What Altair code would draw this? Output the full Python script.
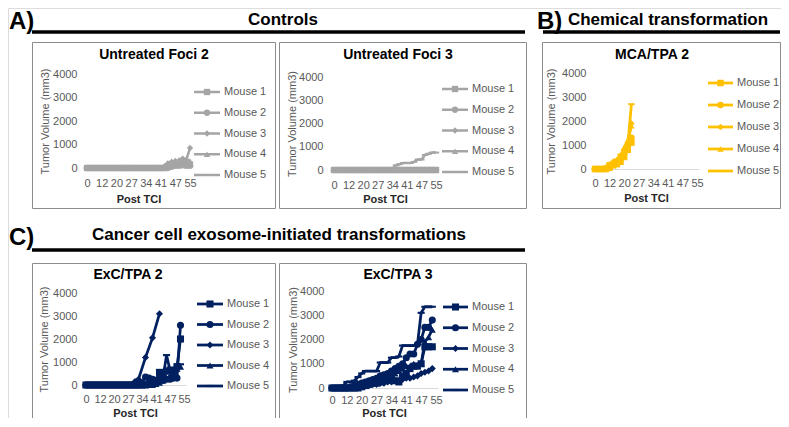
import altair as alt
import pandas as pd

# ---------------- data ----------------
days = [0, 3, 6, 9, 12, 14, 16, 18, 20, 22, 24, 26, 27, 29, 31, 33, 34, 36, 38, 40,
        41, 42, 44, 46, 47, 49, 51, 53, 55]
tick_days = [0, 12, 20, 27, 34, 41, 47, 55]
y_ticks = [0, 1000, 2000, 3000, 4000]
mice = ["Mouse 1", "Mouse 2", "Mouse 3", "Mouse 4", "Mouse 5"]
N = None

# A) Untreated Foci 2
foci2_m1 = [0,0,0,0,0,0,0,0,0,0, 0,0,0,0,0,0,0,0,0,0, 0,0,50,100,150,200,150,200,150]
foci2_m2 = [0,0,0,0,0,0,0,0,0,0, 0,0,0,0,0,0,0,0,0,0, 0,0,0,50,100,100,150,100,100]
foci2_m3 = [0,0,0,0,0,0,0,0,0,0, 0,0,0,0,0,0,0,0,0,0, 0,50,200,150,300,250,400,350,850]
foci2_m4 = [0,0,0,0,0,0,0,0,0,0, 0,0,0,0,0,0,0,0,0,0, 0,100,200,300,250,350,200,300,300]
foci2_m5 = [0,0,0,0,0,0,0,0,0,0, 0,0,0,0,0,0,0,0,0,0, 0,0,0,0,50,50,100,100,100]

# A) Untreated Foci 3
foci3_m1 = [0,0,0,0,0,0,0,0,0,0, 0,0,0,0,0,0,0,0,0,0, 0,0,0,0,0,0,0,0,0]
foci3_m2 = [0,0,0,0,0,0,0,0,0,0, 0,0,0,0,0,0,0,0,0,0, 0,0,0,0,0,0,0,0,0]
foci3_m3 = [0,0,0,0,0,0,0,0,0,0, 0,0,0,0,0,0,0,0,0,0, 0,0,0,0,0,0,0,0,0]
foci3_m4 = [0,0,0,0,0,0,0,0,0,0, 0,0,0,0,0,0,0,0,0,0, 0,0,0,0,0,0,0,0,0]
foci3_m5 = [0,0,0,0,0,0,0,0,0,0, 0,0,0,0,0,0,0,200,250,300, 300,300,350,450,450,650,700,750,750]

# B) MCA/TPA 2
mca2_m1 = [0,0,0,0,50,150,200,300,500,800, 1100,N,N,N,N,N,N,N,N,N, N,N,N,N,N,N,N,N,N]
mca2_m2 = [0,0,0,0,100,200,300,400,600,900, 1300,N,N,N,N,N,N,N,N,N, N,N,N,N,N,N,N,N,N]
mca2_m3 = [0,0,0,50,150,300,250,450,700,1100, 1900,N,N,N,N,N,N,N,N,N, N,N,N,N,N,N,N,N,N]
mca2_m4 = [0,0,0,0,100,250,400,500,900,1200, 1800,N,N,N,N,N,N,N,N,N, N,N,N,N,N,N,N,N,N]
mca2_m5 = [0,0,0,100,250,150,400,600,800,1000, 2700,N,N,N,N,N,N,N,N,N, N,N,N,N,N,N,N,N,N]

# C) ExC/TPA 2
exc2_m1 = [0,0,0,0,0,0,0,0,0,0, 0,0,0,0,0,0,0,0,50,100, 200,550,500,600,650,600,800,2000,N]
exc2_m2 = [0,0,0,0,0,0,0,0,0,0, 0,0,0,0,0,0,100,350,300,250, 200,250,200,250,250,300,300,2600,N]
exc2_m3 = [0,0,0,0,0,0,0,0,0,0, 0,0,0,0,150,250,N,1200,N,2050, N,3100,N,N,N,N,N,N,N]
exc2_m4 = [0,0,0,0,0,0,0,0,0,0, 0,0,0,0,0,0,0,0,0,0, 50,100,200,300,400,500,700,800,N]
exc2_m5 = [0,0,0,0,0,0,0,0,0,0, 0,0,0,0,0,0,0,0,0,0, 100,200,300,1300,650,700,800,900,N]

# C) ExC/TPA 3
exc3_m1 = [0,0,0,0,0,0,0,0,50,100, 150,200,200,250,300,350,400,300,250,500, 600,800,900,900,1000,1700,1700,1700,N]
exc3_m2 = [0,0,0,0,0,50,100,150,200,250, 300,350,400,500,550,600,700,800,900,1000, 1250,1400,1400,1800,2000,2500,2500,2800,N]
exc3_m3 = [0,0,0,0,0,0,0,50,50,100, 100,150,150,200,200,250,250,300,300,350, 400,400,450,500,600,650,700,800,N]
exc3_m4 = [0,0,0,0,0,0,50,100,100,150, 200,250,300,300,400,450,500,600,700,800, 900,900,1000,950,1000,1900,2100,2400,N]
exc3_m5 = [0,0,0,100,250,250,300,450,600,700, 700,700,700,1050,1050,1050,1250,1250,1300,1750, 1750,1750,1750,1800,3100,3350,3350,3350,N]

# ---------------- styling / layout ----------------
FONT = "Liberation Sans"
W, H = 773, 410
OFF = 8
GRAY_TXT = "#595959"
shape_range = ["square", "circle", "diamond", "triangle-up", "M-1,-0.3H1V0.3H-1Z"]
one = pd.DataFrame({"k": [0]})


def px(v):
    return v - OFF


def panel(series, color, g):
    rows = []
    for m, vals in zip(mice, series):
        for d, v in zip(days, vals):
            if v is not None:
                rows.append({"day": d, "vol": v, "mouse": m})
    df = pd.DataFrame(rows)
    step = (g["x1"] - g["x0"]) / (len(days) - 1)
    xs = alt.Scale(type="point", domain=days,
                   range=[px(g["x0"] - step / 2), px(g["x1"] + step / 2)], padding=0.5)
    ys = alt.Scale(domain=[0, 4000], range=[px(g["y0"]), px(g["y4"])], nice=False)
    sh = alt.Scale(domain=mice, range=shape_range)
    xenc = alt.X("day:O", scale=xs,
                 axis=alt.Axis(orient="bottom", offset=px(g["y0"]) - H, values=tick_days,
                               labelAngle=0, labelOverlap=False, ticks=False, grid=False,
                               domain=True, domainColor="#D9D9D9", domainWidth=1,
                               labelColor=GRAY_TXT, labelFontSize=11, labelFont=FONT,
                               labelPadding=g["xlp"], title="Post TCI", titleFont=FONT,
                               titleFontSize=11, titleFontWeight="bold", titleColor="#262626",
                               titlePadding=g["xtp"]))
    yenc = alt.Y("vol:Q", scale=ys,
                 axis=alt.Axis(orient="left", offset=-px(g["ax"]), values=y_ticks, format="d",
                               domain=False, ticks=False, grid=False, labelColor=GRAY_TXT,
                               labelFontSize=11, labelFont=FONT, labelPadding=3,
                               title="Tumor Volume (mm3)", titleFont=FONT, titleFontSize=11,
                               titleFontWeight="normal", titleColor=GRAY_TXT,
                               titlePadding=g["ytp"]))
    base = alt.Chart(df)
    lines = base.mark_line(color=color, strokeWidth=g["lw"]).encode(
        x=xenc, y=yenc, detail="mouse:N")
    pts = base.mark_point(filled=True, opacity=1, color=color, size=g["ms"]).encode(
        x=xenc, y=yenc, shape=alt.Shape("mouse:N", scale=sh, legend=None))
    return alt.layer(lines, pts)


def legend(color, g):
    df = pd.DataFrame({"mouse": mice})
    ys = alt.Scale(type="point", domain=mice, range=[px(g["ly0"]), px(g["ly1"])], padding=0)
    yenc = alt.Y("mouse:N", scale=ys, axis=None)
    sh = alt.Scale(domain=mice, range=shape_range)
    b = alt.Chart(df)
    r = b.mark_rule(color=color, strokeWidth=g["lw"]).encode(
        x=alt.value(px(g["lx0"])), x2=alt.value(px(g["lx1"])), y=yenc)
    p = b.mark_point(filled=True, opacity=1, color=color, size=g["ms"]).encode(
        x=alt.value(px((g["lx0"] + g["lx1"]) / 2)), y=yenc,
        shape=alt.Shape("mouse:N", scale=sh, legend=None))
    t = b.mark_text(align="left", baseline="middle", fontSize=11, font=FONT,
                    color=GRAY_TXT).encode(x=alt.value(px(g["ltx"])), y=yenc, text="mouse:N")
    return alt.layer(r, p, t)


def box(x0, y0, x1, y1):
    return alt.Chart(one).mark_rect(filled=False, color="#8C8C8C", strokeWidth=1).encode(
        x=alt.value(px(x0) + 0.5), x2=alt.value(px(x1) + 0.5),
        y=alt.value(px(y0) + 0.5), y2=alt.value(px(y1) + 0.5))


def label(text, x, y, size, align="center", weight="bold", color="black"):
    return alt.Chart(one).mark_text(align=align, baseline="middle", fontSize=size,
                                    fontWeight=weight, font=FONT, color=color).encode(
        x=alt.value(px(x)), y=alt.value(px(y)), text=alt.value(text))


def hline(x0, x1, y):
    return alt.Chart(one).mark_rule(color="black", strokeWidth=3.5).encode(
        x=alt.value(px(x0)), x2=alt.value(px(x1)), y=alt.value(px(y)))


C_GRAY = "#A5A5A5"
C_GOLD = "#FFC000"
C_NAVY = "#002060"

panels = [
    ([foci2_m1, foci2_m2, foci2_m3, foci2_m4, foci2_m5], C_GRAY,
     dict(box=(32, 42, 275, 208), title=(154, 55, "Untreated Foci 2"),
          x0=87, x1=190, y0=168, y4=74, ax=80, xlp=9, xtp=5, ytp=2,
          lx0=194, lx1=220, ltx=224, ly0=92, ly1=175, lw=2.5, ms=40)),
    ([foci3_m1, foci3_m2, foci3_m3, foci3_m4, foci3_m5], C_GRAY,
     dict(box=(279, 42, 526, 208), title=(398, 55, "Untreated Foci 3"),
          x0=334, x1=436, y0=170, y4=77, ax=326, xlp=9, xtp=3, ytp=1,
          lx0=442, lx1=468, ltx=472, ly0=89, ly1=172, lw=2.5, ms=40)),
    ([mca2_m1, mca2_m2, mca2_m3, mca2_m4, mca2_m5], C_GOLD,
     dict(box=(542, 42, 780, 208), title=(652, 55, "MCA/TPA 2"),
          x0=595, x1=697, y0=169, y4=73, ax=589, xlp=8, xtp=4, ytp=5,
          lx0=708, lx1=733, ltx=737, ly0=83, ly1=171, lw=2.75, ms=42)),
    ([exc2_m1, exc2_m2, exc2_m3, exc2_m4, exc2_m5], C_NAVY,
     dict(box=(32, 263, 275, 418), title=(128, 275, "ExC/TPA 2"),
          x0=86, x1=184, y0=385, y4=293, ax=80, xlp=8, xtp=3, ytp=3,
          lx0=197, lx1=223, ltx=227, ly0=304, ly1=386, lw=2.75, ms=50)),
    ([exc3_m1, exc3_m2, exc3_m3, exc3_m4, exc3_m5], C_NAVY,
     dict(box=(279, 263, 526, 418), title=(398, 275, "ExC/TPA 3"),
          x0=332, x1=436, y0=388, y4=291, ax=327, xlp=6, xtp=2, ytp=1,
          lx0=443, lx1=468, ltx=472, ly0=307, ly1=390, lw=2.75, ms=50)),
]

layers = []
# section headers
layers += [
    label("A)", 9, 22, 24, align="left"),
    label("Controls", 283, 20, 17),
    hline(32, 525, 32),
    label("B)", 537, 22, 24, align="left"),
    label("Chemical transformation", 668, 20, 17),
    hline(543, 780, 32),
    label("C)", 9, 238, 24, align="left"),
    label("Cancer cell exosome-initiated transformations", 279, 235, 17),
    hline(32, 525, 250),
]
for series, color, g in panels:
    layers.append(box(*g["box"]))
    tx, ty, tt = g["title"]
    layers.append(label(tt, tx, ty, 14))
    layers.append(panel(series, color, g))
    layers.append(legend(color, g))

chart = (
    alt.layer(*layers)
    .resolve_scale(x="independent", y="independent", shape="independent")
    .properties(width=W, height=H, padding=0, autosize=alt.AutoSizeParams(type="none"))
    .configure_view(stroke=None)
    .configure(font=FONT)
)

chart.save("out.html", embed_options={"renderer": "svg", "actions": False})
